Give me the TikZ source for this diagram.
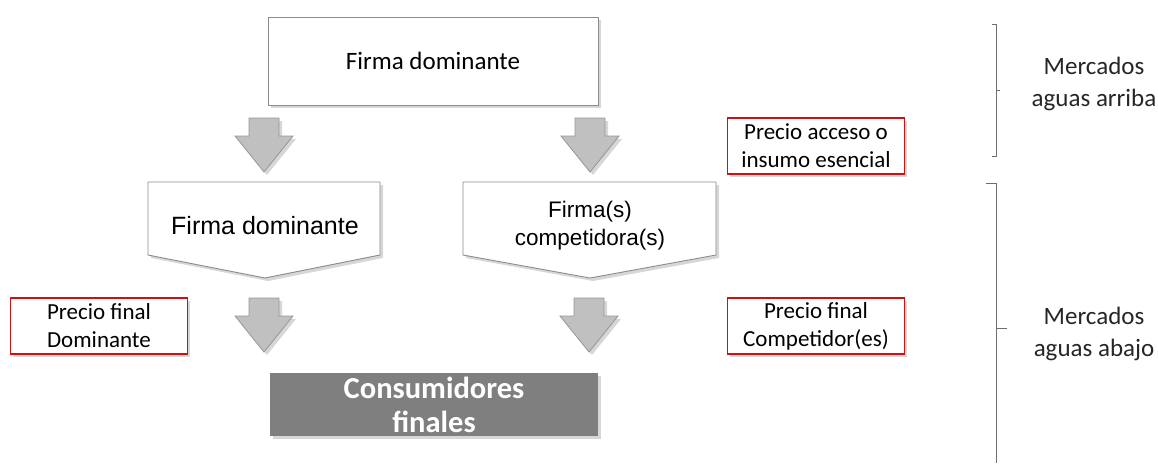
\documentclass[tikz,border=0pt]{standalone}
\usepackage{fontspec}
\setmainfont{Carlito}
\newfontfamily\arialf{Liberation Sans}
\usetikzlibrary{shadows}
\definecolor{redb}{RGB}{208,16,16}
\definecolor{boxline}{RGB}{140,140,140}
\definecolor{arrfill}{RGB}{192,192,192}
\definecolor{arrline}{RGB}{150,150,150}
\definecolor{shad}{RGB}{215,215,215}
\definecolor{consfill}{RGB}{127,127,127}
\definecolor{brk}{RGB}{110,110,110}
\tikzset{
  shd/.style={drop shadow={shadow xshift=2.5pt, shadow yshift=-2.5pt, fill=shad, opacity=1}},
  topbox/.style={draw=boxline, line width=0.9pt, fill=white, shd, minimum width=330pt, minimum height=88pt, inner sep=0pt,
    font=\fontsize{25}{30}\selectfont},
  redbox/.style={draw=redb, line width=1.6pt, fill=white, shd, minimum width=177pt, minimum height=56pt, inner sep=0pt,
    align=center, font=\fontsize{23}{28}\selectfont},
  consbox/.style={fill=consfill, shd, minimum width=328pt, minimum height=63pt, inner sep=0pt, text=white,
    align=center, font=\bfseries\fontsize{30.5}{34}\selectfont},
  sidelabel/.style={align=center, text=black!85, font=\fontsize{25}{32}\selectfont},
  pentlabel/.style={align=center, font=\arialf},
  brace/.style={draw=brk, line width=0.8pt},
  blockarrow/.pic={
    \fill[shad] (-12,3) -- (18,3) -- (18,21) -- (32,21) -- (3,57) -- (-26,21) -- (-12,21) -- cycle;
    \draw[draw=arrline, fill=arrfill, line width=0.8pt]
      (-15,0) -- (15,0) -- (15,18) -- (29,18) -- (0,54) -- (-29,18) -- (-15,18) -- cycle;
  }
}
\begin{document}
\begin{tikzpicture}[x=1pt,y=-1pt]
\useasboundingbox (0,0) rectangle (1158,463);

% top box
\node[topbox] (top) at (433,61) {Firma dominante};

% upper arrows
\pic at (264,118) {blockarrow};
\pic at (590,118) {blockarrow};

% pentagons
\fill[shad] (151,185) -- (383,185) -- (383,258) -- (268,281) -- (151,258) -- cycle;
\draw[draw=boxline, fill=white, line width=0.9pt]
  (148,182) -- (380,182) -- (380,255) -- (265,278) -- (148,255) -- cycle;
\node[pentlabel, font=\arialf\fontsize{25}{29}\selectfont] (pdom) at (265,226) {Firma dominante};

\fill[shad] (466,185) -- (719,185) -- (719,258) -- (593,281) -- (466,258) -- cycle;
\draw[draw=boxline, fill=white, line width=0.9pt]
  (463,182) -- (716,182) -- (716,255) -- (590,278) -- (463,255) -- cycle;
\node[pentlabel, font=\arialf\fontsize{22.5}{28}\selectfont] (pcomp) at (590,226) {Firma(s)\\competidora(s)};

% red boxes
\node[redbox] (acc) at (816,146) {Precio acceso o\\insumo esencial};
\node[redbox] (pfd) at (99,326) {Precio final\\Dominante};
\node[redbox] (pfc) at (816,326) {Precio final\\Competidor(es)};

% lower arrows
\pic at (264,298) {blockarrow};
\pic at (589,298) {blockarrow};

% consumers
\node[consbox] (cons) at (434,404.5) {Consumidores\\finales};

% brackets
\draw[brace] (992,24) -- (996,24) -- (996,156) -- (992,156);
\draw[brace] (996,90) -- (1000,90);
\draw[brace] (986,183) -- (996,183) -- (996,463);
\draw[brace] (996,328) -- (1007,328);

\node[sidelabel] (up) at (1094,84) {Mercados\\aguas arriba};
\node[sidelabel] (down) at (1094,334) {Mercados\\aguas abajo};
\end{tikzpicture}
\end{document}
